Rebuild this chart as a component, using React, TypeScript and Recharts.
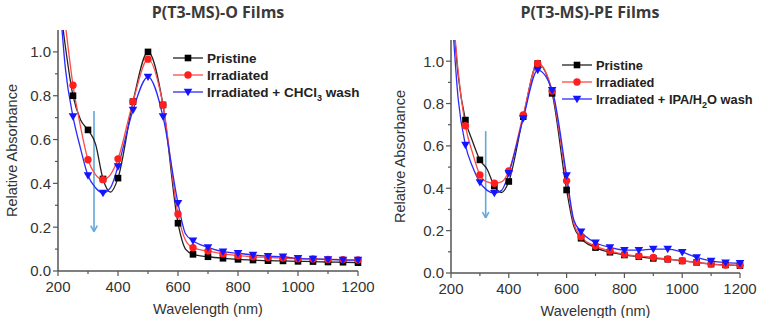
import React from 'react';
import { LineChart, Line, XAxis, YAxis, Legend, ReferenceLine } from 'recharts';

// wavelength grid (nm) shared by both panels
const wavelengths = [200, 225, 250, 275, 300, 325, 350, 375, 400, 450, 500, 550, 600, 625, 650, 700, 750, 800, 850, 900, 950, 1000, 1050, 1100, 1150, 1200];
// markers are drawn every 50 nm
const markedWavelengths = [250, 300, 350, 400, 450, 500, 550, 600, 650, 700, 750, 800, 850, 900, 950, 1000, 1050, 1100, 1150, 1200];

// P(T3-MS)-O films
const oPristine = [1.30, 1.02, 0.80, 0.69, 0.644, 0.58, 0.42, 0.36, 0.424, 0.773, 1.0, 0.758, 0.218, 0.10, 0.076, 0.065, 0.058, 0.053, 0.05, 0.047, 0.046, 0.044, 0.043, 0.041, 0.040, 0.038];
const oIrradiated = [1.40, 1.12, 0.848, 0.66, 0.508, 0.44, 0.417, 0.44, 0.512, 0.773, 0.967, 0.758, 0.26, 0.14, 0.106, 0.091, 0.078, 0.07, 0.065, 0.062, 0.059, 0.056, 0.055, 0.053, 0.052, 0.05];
const oWashed = [1.35, 0.92, 0.705, 0.56, 0.436, 0.38, 0.356, 0.38, 0.477, 0.735, 0.886, 0.705, 0.31, 0.17, 0.138, 0.108, 0.088, 0.081, 0.073, 0.068, 0.065, 0.058, 0.055, 0.053, 0.05, 0.05];

// P(T3-MS)-PE films
const pePristine = [1.35, 0.93, 0.722, 0.62, 0.534, 0.49, 0.41, 0.38, 0.432, 0.738, 0.989, 0.848, 0.392, 0.22, 0.164, 0.12, 0.098, 0.085, 0.077, 0.069, 0.065, 0.057, 0.05, 0.042, 0.038, 0.035];
const peIrradiated = [1.35, 0.95, 0.695, 0.565, 0.463, 0.43, 0.424, 0.43, 0.482, 0.746, 0.989, 0.859, 0.435, 0.235, 0.171, 0.127, 0.104, 0.088, 0.08, 0.074, 0.066, 0.058, 0.05, 0.042, 0.038, 0.036];
const peWashed = [1.30, 0.82, 0.604, 0.50, 0.428, 0.39, 0.377, 0.39, 0.471, 0.73, 0.958, 0.863, 0.46, 0.25, 0.195, 0.143, 0.121, 0.108, 0.108, 0.113, 0.113, 0.098, 0.074, 0.057, 0.049, 0.046];

const xTicks = [200, 300, 400, 500, 600, 700, 800, 900, 1000, 1100, 1200];
const yTicks = [0, 0.1, 0.2, 0.3, 0.4, 0.5, 0.6, 0.7, 0.8, 0.9, 1.0];

// downward arrows (nm, top, tip)
const oArrow = { x: 320, top: 0.73, tip: 0.18 };
const peArrow = { x: 320, top: 0.67, tip: 0.26 };

const AXIS = '#555';
const TEXT = '#333';
const ARROW = '#63a8dc';
const FONT = '"Liberation Sans", Arial, sans-serif';

const buildRows = (a: number[], b: number[], c: number[]) =>
  wavelengths.map((nm, i) => ({ nm, pristine: a[i], irradiated: b[i], washed: c[i] }));

const oRows = buildRows(oPristine, oIrradiated, oWashed);
const peRows = buildRows(pePristine, peIrradiated, peWashed);

type Shape = 'square' | 'circle' | 'triangle';

const Marker = ({ shape, cx, cy, color }: { shape: Shape; cx: number; cy: number; color: string }) => {
  if (shape === 'square') return <rect x={cx - 3.3} y={cy - 3.3} width={6.6} height={6.6} fill={color} />;
  if (shape === 'circle') return <circle cx={cx} cy={cy} r={3.7} fill={color} />;
  return <path d={`M${cx - 4.3},${cy - 3.2} L${cx + 4.3},${cy - 3.2} L${cx},${cy + 4.2} Z`} fill={color} />;
};

const makeDot = (shape: Shape, color: string) => (props: any) => {
  const { cx, cy, payload, index } = props;
  if (!markedWavelengths.includes(payload.nm) || cx == null || cy == null) return <g key={index} />;
  return <Marker key={index} shape={shape} cx={cx} cy={cy} color={color} />;
};

const series = [
  { key: 'pristine', name: 'Pristine', line: '#222', marker: '#000', shape: 'square' as Shape },
  { key: 'irradiated', name: 'Irradiated', line: '#ff4a4a', marker: '#ff1f1f', shape: 'circle' as Shape },
  { key: 'washed', name: 'Irradiated + wash', line: '#2a2aff', marker: '#1414ff', shape: 'triangle' as Shape },
];

const YTick = ({ x, y, payload }: any) => {
  const major = Math.round(payload.value * 10) % 2 === 0;
  return (
    <g>
      <line x1={x} x2={x - (major ? 5 : 3)} y1={y} y2={y} stroke={AXIS} strokeWidth={1.2} />
      {major && (
        <text x={x - 7} y={y} dy="0.36em" textAnchor="end" fontSize={15} fontFamily={FONT} fill={TEXT}>
          {payload.value.toFixed(1)}
        </text>
      )}
    </g>
  );
};

const XTick = ({ x, y, payload }: any) => {
  const major = payload.value % 200 === 0;
  return (
    <g>
      <line x1={x} x2={x} y1={y} y2={y + (major ? 5 : 3)} stroke={AXIS} strokeWidth={1.2} />
      {major && (
        <text x={x} y={y + 21} textAnchor="middle" fontSize={15} fontFamily={FONT} fill={TEXT}>
          {payload.value}
        </text>
      )}
    </g>
  );
};

const LegendBox = ({ washLabel, width, fontSize }: { washLabel: React.ReactNode; width: number; fontSize: number }) => (
  <svg width={width} height={56}>
    {series.map((s, i) => {
      const cy = 8 + i * 17;
      return (
        <g key={s.key}>
          <line x1={1} x2={31} y1={cy} y2={cy} stroke={s.line} strokeWidth={1.3} />
          <Marker shape={s.shape} cx={16} cy={cy} color={s.marker} />
          <text x={35} y={cy} dy="0.36em" fontSize={fontSize} fontWeight="bold" fontFamily={FONT} fill="#222">
            {i === 2 ? washLabel : s.name}
          </text>
        </g>
      );
    })}
  </svg>
);

const Arrow = ({ arrow, dx, dy }: { arrow: { x: number; top: number; tip: number }; dx: number; dy: number }) => (
  <>
    <ReferenceLine segment={[{ x: arrow.x, y: arrow.top }, { x: arrow.x, y: arrow.tip }]} stroke={ARROW} strokeWidth={1.6} />
    <ReferenceLine segment={[{ x: arrow.x - dx, y: arrow.tip + dy }, { x: arrow.x, y: arrow.tip }]} stroke={ARROW} strokeWidth={1.6} />
    <ReferenceLine segment={[{ x: arrow.x + dx, y: arrow.tip + dy }, { x: arrow.x, y: arrow.tip }]} stroke={ARROW} strokeWidth={1.6} />
  </>
);

interface PanelProps {
  rows: any[];
  width: number;
  yAxisWidth: number;
  margin: { top: number; right: number; bottom: number; left: number };
  xAxisHeight: number;
  yLabelX: number;
  legendPos: { left: number; top: number };
  legendFont: number;
  washLabel: React.ReactNode;
  arrow: { x: number; top: number; tip: number };
}

const Panel = ({ rows, width, yAxisWidth, margin, xAxisHeight, yLabelX, legendPos, legendFont, washLabel, arrow }: PanelProps) => {
  const legendWidth = width - legendPos.left;
  return (
    <LineChart width={width} height={318} data={rows} margin={margin}>
      <XAxis
        dataKey="nm"
        type="number"
        domain={[200, 1200]}
        ticks={xTicks}
        interval={0}
        height={xAxisHeight}
        tickSize={0}
        tickMargin={0}
        tickLine={false}
        tick={<XTick />}
        axisLine={{ stroke: AXIS, strokeWidth: 1.5 }}
        label={{
          content: (p: any) => {
            const vb = p.viewBox;
            return (
              <text x={vb.x + vb.width / 2} y={vb.y + 43} textAnchor="middle" fontSize={14.5} fontFamily={FONT} fill={TEXT}>
                Wavelength (nm)
              </text>
            );
          },
        }}
      />
      <YAxis
        type="number"
        domain={[0, 1.1]}
        allowDataOverflow
        ticks={yTicks}
        interval={0}
        width={yAxisWidth}
        tickSize={0}
        tickMargin={0}
        tickLine={false}
        tick={<YTick />}
        axisLine={{ stroke: AXIS, strokeWidth: 1.5 }}
        label={{
          content: (p: any) => {
            const vb = p.viewBox;
            const cy = vb.y + vb.height / 2;
            return (
              <text x={yLabelX} y={cy} transform={`rotate(-90 ${yLabelX} ${cy})`} textAnchor="middle" dominantBaseline="central" fontSize={14.5} fontFamily={FONT} fill={TEXT}>
                Relative Absorbance
              </text>
            );
          },
        }}
      />
      <Legend
        layout="vertical"
        align="center"
        verticalAlign="middle"
        wrapperStyle={{ position: 'absolute', left: legendPos.left, top: legendPos.top, width: legendWidth, height: 56 }}
        content={() => <LegendBox washLabel={washLabel} width={legendWidth} fontSize={legendFont} />}
      />
      {Arrow({ arrow, dx: 11, dy: 0.027 })}
      {series.map((s) => (
        <Line
          key={s.key}
          type="monotone"
          dataKey={s.key}
          name={s.name}
          stroke={s.line}
          strokeWidth={1.3}
          dot={makeDot(s.shape, s.marker)}
          activeDot={false}
          isAnimationActive={false}
        />
      ))}
    </LineChart>
  );
};

const titleStyle: React.CSSProperties = {
  position: 'absolute',
  top: 1,
  fontFamily: '"Open Sans", sans-serif',
  fontWeight: 700,
  fontSize: 16,
  color: '#3a3a3a',
  textAlign: 'center',
  width: 300,
  whiteSpace: 'nowrap',
};

export default function App() {
  return (
    <div style={{ position: 'absolute', left: 0, top: 0, width: 759, height: 318, background: '#fff', overflow: 'hidden' }}>
      <div style={{ position: 'absolute', left: 0, top: 0 }}>
        <Panel
          rows={oRows}
          width={380}
          yAxisWidth={58}
          margin={{ top: 30, right: 22, bottom: 0, left: 0 }}
          xAxisHeight={47}
          yLabelX={12}
          legendPos={{ left: 172, top: 50 }}
          legendFont={13.5}
          washLabel={<>Irradiated + CHCl<tspan dy={4} fontSize={9}>3</tspan><tspan dy={-4}> wash</tspan></>}
          arrow={oArrow}
        />
      </div>
      <div style={{ position: 'absolute', left: 380, top: 0 }}>
        <Panel
          rows={peRows}
          width={379}
          yAxisWidth={71}
          margin={{ top: 40, right: 19, bottom: 0, left: 0 }}
          xAxisHeight={45}
          yLabelX={20}
          legendPos={{ left: 181, top: 57 }}
          legendFont={12.8}
          washLabel={<>Irradiated + IPA/H<tspan dy={4} fontSize={9}>2</tspan><tspan dy={-4}>O wash</tspan></>}
          arrow={peArrow}
        />
      </div>
      <div style={{ ...titleStyle, left: 68 }}>P(T3-MS)-O Films</div>
      <div style={{ ...titleStyle, left: 440 }}>P(T3-MS)-PE Films</div>
    </div>
  );
}
